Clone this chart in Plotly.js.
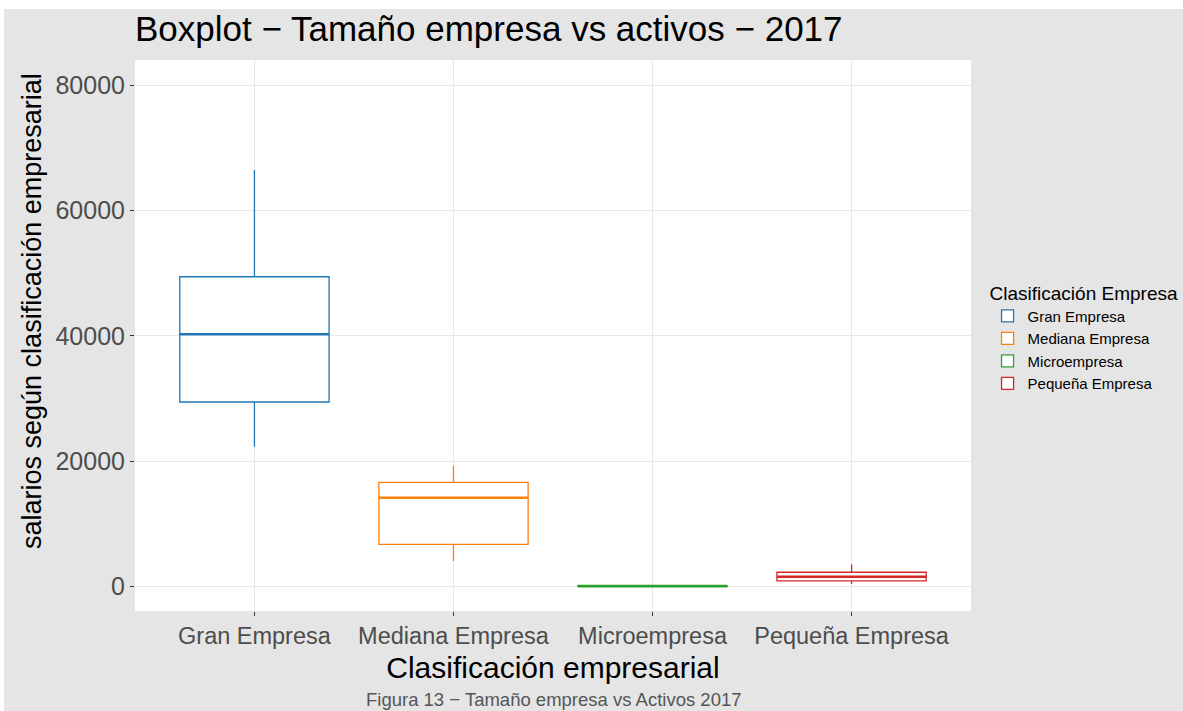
<!DOCTYPE html>
<html>
<head>
<meta charset="utf-8">
<script src="https://cdn.plot.ly/plotly-3.0.1.min.js"></script>
<style>
html,body{margin:0;padding:0;background:#ffffff;}
#chart{position:absolute;left:4px;top:9px;width:1179px;height:702px;}
</style>
</head>
<body>
<div id="chart"></div>
<script>
// Data
const categories = ["Gran Empresa", "Mediana Empresa", "Microempresa", "Pequeña Empresa"];
const lowerWhisker = [22330, 4100, 0, 430];
const q1Values     = [29450, 6760, 40, 910];
const medianValues = [40250, 14190, 90, 1590];
const q3Values     = [49430, 16650, 160, 2300];
const upperWhisker = [66450, 19300, 250, 3570];
const seriesColors = ["#1F77B4", "#FF7F0E", "#2CA02C", "#D62728"];
const yTickValues  = [0, 20000, 40000, 60000, 80000];

const FONT = "Liberation Sans, Arial, sans-serif";
const BOXWIDTH = 0.75;

const traces = categories.map((c, i) => ({
  type: "box",
  name: c,
  x: [c],
  q1: [q1Values[i]],
  median: [medianValues[i]],
  q3: [q3Values[i]],
  lowerfence: [lowerWhisker[i]],
  upperfence: [upperWhisker[i]],
  width: BOXWIDTH,
  whiskerwidth: 0,
  line: {color: seriesColors[i], width: 1.3},
  fillcolor: "rgba(255,255,255,1)",
  boxpoints: false,
  hoverinfo: "y"
}));

// thicker median segments (ggplot style), derived from the data arrays
const shapes = categories.map((c, i) => ({
  type: "line", xref: "x", yref: "y",
  x0: i - BOXWIDTH / 2, x1: i + BOXWIDTH / 2,
  y0: medianValues[i], y1: medianValues[i],
  line: {color: seriesColors[i], width: 2.6}
}));

const layout = {
  width: 1179, height: 702,
  paper_bgcolor: "#E5E5E5",
  plot_bgcolor: "#FFFFFF",
  margin: {l: 131, r: 212, t: 51, b: 100, autoexpand: false},
  font: {family: FONT, color: "#000000"},
  boxmode: "overlay",
  showlegend: true,
  title: {
    text: "Boxplot − Tamaño empresa vs activos − 2017",
    font: {family: FONT, size: 35, color: "#000000"},
    xref: "paper", x: 0, xanchor: "left",
    yref: "container", y: 1 - 20 / 702, yanchor: "middle"
  },
  xaxis: {
    type: "category",
    categoryarray: categories,
    range: [-0.6, 3.6],
    showgrid: true, gridcolor: "#E8E8E8", gridwidth: 1.2,
    zeroline: false, showline: false,
    ticks: "outside", ticklen: 4, tickwidth: 1, tickcolor: "#333333",
    tickfont: {family: FONT, size: 23.5, color: "#4D4D4D"},
    title: {text: "Clasificación empresarial", font: {family: FONT, size: 30, color: "#000000"}, standoff: 8}
  },
  yaxis: {
    range: [-3880, 84000],
    tickvals: yTickValues,
    ticktext: yTickValues.map(v => String(v)),
    showgrid: true, gridcolor: "#E8E8E8", gridwidth: 1.2,
    zeroline: false, showline: false,
    ticks: "outside", ticklen: 4, tickwidth: 1, tickcolor: "#333333",
    tickfont: {family: FONT, size: 25, color: "#4D4D4D"}
  },
  legend: {
    x: 1.0198, xanchor: "left",
    y: 0.61, yanchor: "top",
    bgcolor: "rgba(0,0,0,0)",
    font: {family: FONT, size: 15, color: "#000000"},
    title: {text: "Clasificación Empresa", font: {family: FONT, size: 19, color: "#000000"}},
    tracegroupgap: 0,
    itemwidth: 30
  },
  shapes: shapes,
  annotations: [{
    text: "salarios según clasificación empresarial",
    xref: "paper", yref: "paper",
    x: -0.1232, y: 0.5445, xanchor: "center", yanchor: "middle",
    textangle: -90, showarrow: false,
    font: {family: FONT, size: 27, color: "#000000"}
  }, {
    text: "Figura 13 − Tamaño empresa vs Activos 2017",
    xref: "paper", yref: "paper",
    x: 0.501, y: -0.1615, xanchor: "center", yanchor: "middle",
    showarrow: false,
    font: {family: FONT, size: 18.5, color: "#555555"}
  }]
};

Plotly.newPlot("chart", traces, layout, {displayModeBar: false, responsive: false});
</script>
</body>
</html>
